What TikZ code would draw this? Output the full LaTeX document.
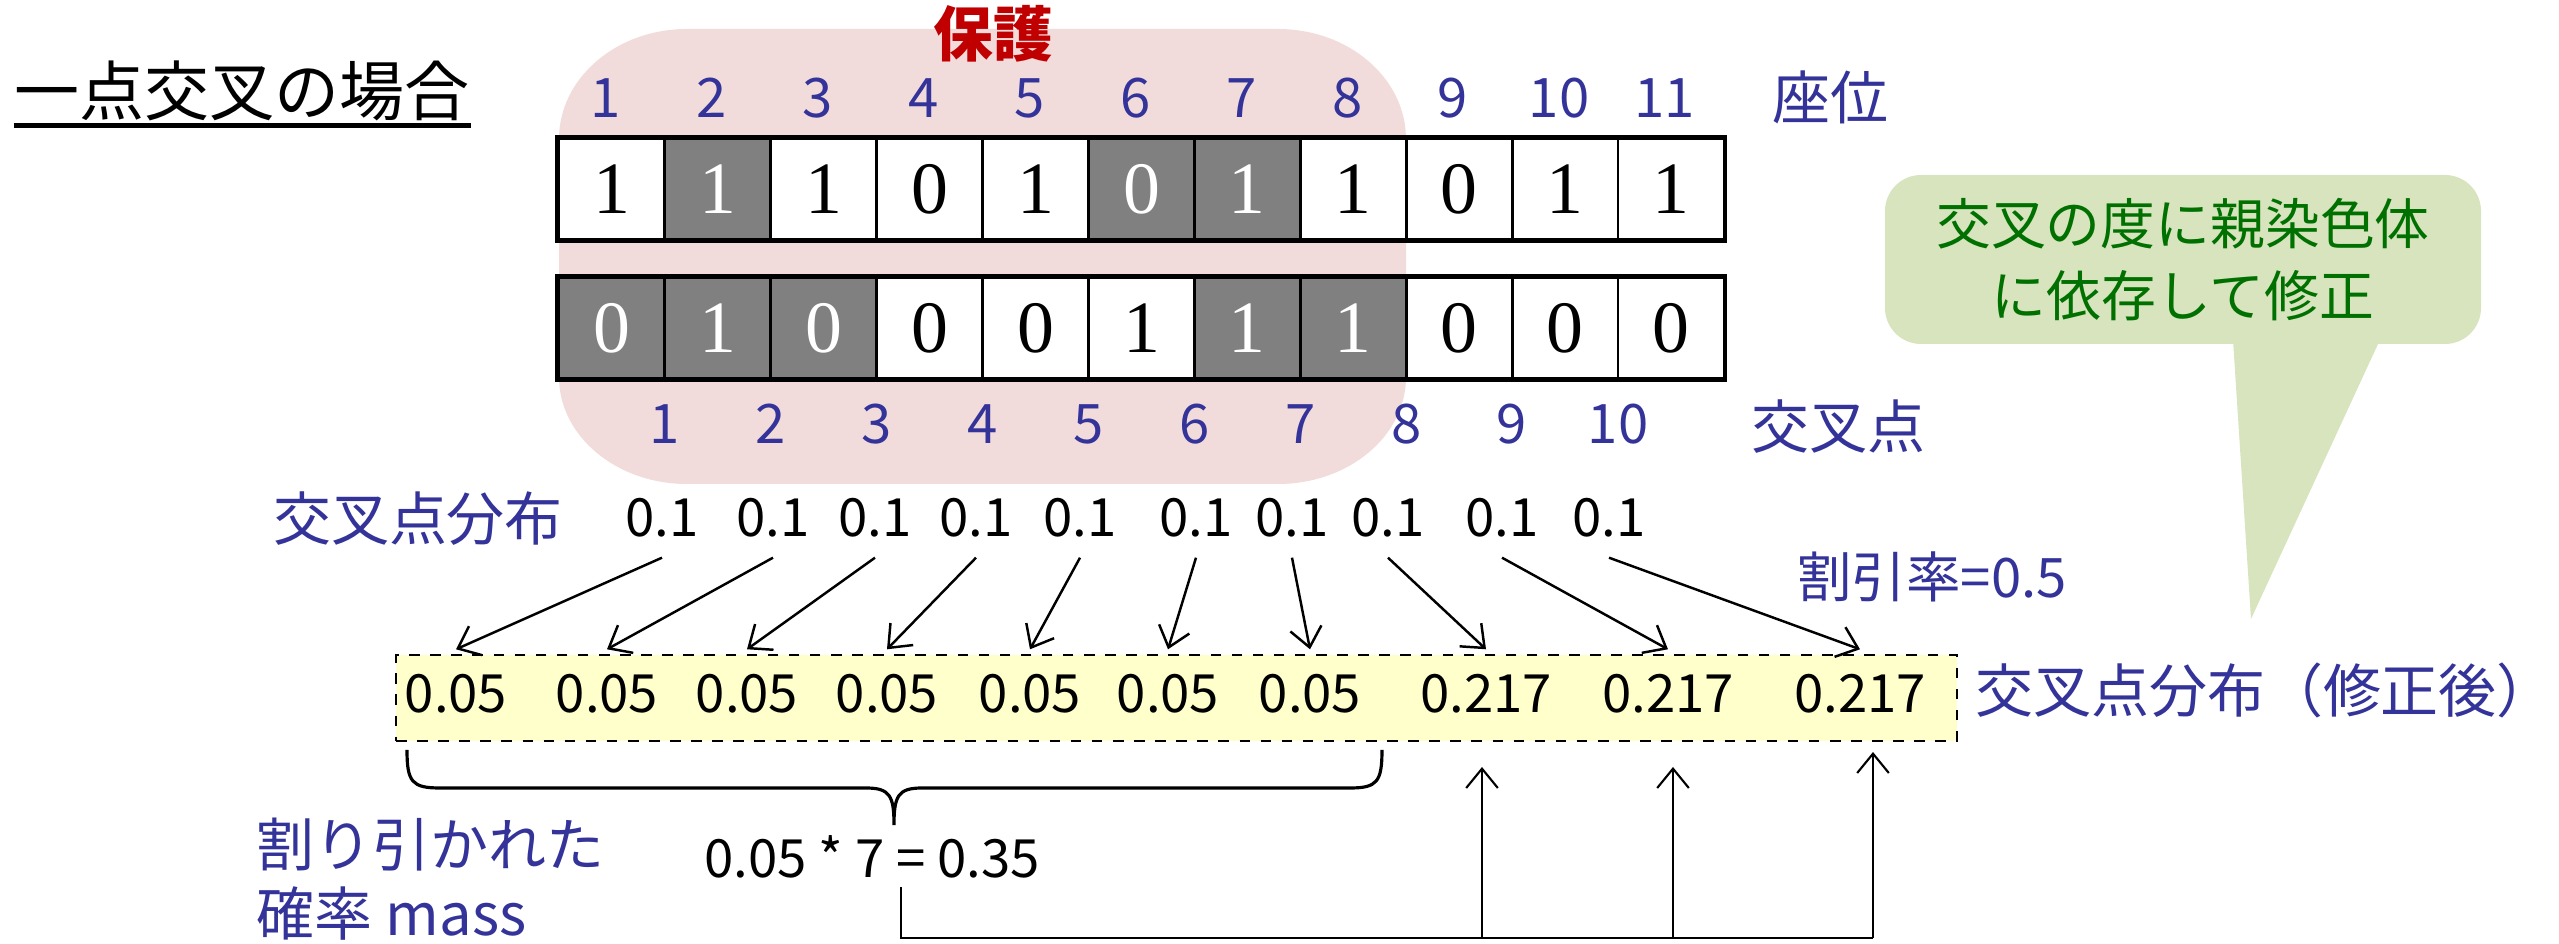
\documentclass[tikz,border=0pt]{standalone}
\usepackage{fontspec}
\setmainfont{Noto Sans CJK JP}
\newfontfamily\bitfont{Liberation Serif}
\usetikzlibrary{arrows.meta}
\definecolor{numblue}{RGB}{51,51,153}
\definecolor{guardpink}{RGB}{242,220,219}
\definecolor{guardred}{RGB}{192,0,0}
\definecolor{bitgray}{RGB}{128,128,128}
\definecolor{distyellow}{RGB}{255,255,204}
\definecolor{notefill}{RGB}{215,228,189}
\definecolor{notetext}{RGB}{0,112,0}

\begin{document}
\begin{tikzpicture}[x=1cm,y=1cm,
  bit/.style={draw,fill=white,line width=0.8pt,minimum width=1.059cm,minimum height=1cm,inner sep=0,font=\bitfont\fontsize{21}{21}\selectfont},
  hl/.style={fill=bitgray,text=white},
  posnum/.style={text=numblue,inner sep=0,font=\fontsize{15.5}{15.5}\selectfont},
  lbl/.style={text=numblue,inner sep=0,font=\fontsize{16.5}{16.5}\selectfont},
  val/.style={inner sep=0,font=\fontsize{15}{15}\selectfont},
  arr/.style={-{Straight Barb[length=5.5pt,width=9pt]},line width=0.7pt}]
\useasboundingbox (0,0) rectangle (25.59,9.44);
\fill[guardpink] (6.87,9.15) -- (12.78,9.15) arc[start angle=90,end angle=0,x radius=1.28,y radius=1.1] -- (14.06,5.67) arc[start angle=0,end angle=-90,x radius=1.28,y radius=1.07] -- (6.87,4.6) arc[start angle=270,end angle=180,x radius=1.28,y radius=1.07] -- (5.59,8.05) arc[start angle=180,end angle=90,x radius=1.28,y radius=1.1] -- cycle;
\node[font=\bfseries\fontsize{17}{17}\selectfont,text=guardred,inner sep=0] (guard) at (9.93,9.10) {保護};
\node[anchor=west,inner sep=0,font=\fontsize{18.5}{18.5}\selectfont] (title) at (0.14,8.53) {一点交叉の場合};
\draw[line width=1.2pt] ([yshift=-0.1cm]title.base west) -- ([yshift=-0.1cm]title.base east);
\foreach \b/\s [count=\i] in {1/,1/hl,1/,0/,1/,0/hl,1/hl,1/,0/,1/,1/}
  \node[bit,\s] (t\i) at ({5.0605+1.059*\i},7.55) {\b};
\foreach \b/\s [count=\i] in {0/hl,1/hl,0/hl,0/,0/,1/,1/hl,1/hl,0/,0/,0/}
  \node[bit,\s] (u\i) at ({5.0605+1.059*\i},6.16) {\b};
\draw[line width=1.2pt] (t1.north west) rectangle (t11.south east);
\draw[line width=1.2pt] (u1.north west) rectangle (u11.south east);
\foreach \i in {1,...,11}
  \node[posnum] (p\i) at ({5.0+1.059*\i},8.46) {\i};
\foreach \i in {1,...,10}
  \node[posnum] (c\i) at ({5.59+1.059*\i},5.20) {\i};
\node[lbl] (seat) at (18.30,8.47) {座位};
\node[lbl] (cross) at (18.38,5.17) {交叉点};
\node[lbl] (dist) at (4.18,4.25) {交叉点分布};
\node[lbl] (distfix) at (22.65,2.54) {交叉点分布（修正後）};
\node[text=numblue,inner sep=0,font=\fontsize{15.5}{15.5}\selectfont] (rate) at (19.32,3.67) {割引率=0.5};
\node[lbl,align=left,anchor=west,font=\fontsize{16.5}{19.6}\selectfont] (lost) at (2.56,0.645) {割り引かれた\\確率 mass};
\node[draw,dashed,fill=distyellow,line width=0.6pt,minimum width=15.61cm,minimum height=0.86cm,inner sep=0] (newbox) at (11.765,2.46) {};
\foreach \x [count=\i] in {6.62,7.73,8.75,9.76,10.80,11.96,12.92,13.88,15.02,16.09}
  \node[val,minimum height=0.78cm] (a\i) at (\x,4.26) {0.1};
\foreach \x/\v [count=\i] in {4.56/0.05,6.07/0.05,7.47/0.05,8.87/0.05,10.30/0.05,11.68/0.05,13.10/0.05,14.86/0.217,16.68/0.217,18.60/0.217}
  \node[val,minimum height=0.88cm] (b\i) at (\x,2.50) {\v};
\foreach \i in {1,...,10}
  \draw[arr] (a\i.south) -- (b\i.north);
\draw[line width=0.9pt] (4.07,1.94) .. controls (4.07,1.62) and (4.12,1.56) .. (4.40,1.56) -- (8.66,1.56) .. controls (8.90,1.56) and (8.94,1.48) .. (8.94,1.19) .. controls (8.94,1.48) and (8.98,1.56) .. (9.22,1.56) -- (13.50,1.56) .. controls (13.77,1.56) and (13.82,1.62) .. (13.82,1.94);
\node[val] (mass) at (8.72,0.87) {0.05 * 7 = 0.35};
\coordinate (m0) at (9.01,0.57);
\coordinate (bus) at (9.01,0.06);
\coordinate (k1) at (14.82,1.77);
\coordinate (k2) at (16.73,1.77);
\coordinate (k3) at (18.73,1.92);
\draw[line width=0.6pt] (m0) -- (bus) -- (bus -| k3);
\foreach \k in {1,2,3}
  \draw[arr,line width=0.6pt] (bus -| k\k) -- (k\k);
\node[fill=notefill,rounded corners=0.36cm,minimum width=5.96cm,minimum height=1.69cm,align=center,text=notetext,font=\fontsize{15.6}{20.7}\selectfont] (note) at (21.83,6.845) {交叉の度に親染色体\\に依存して修正};
\coordinate (tip) at (22.51,3.25);
\fill[notefill] ([xshift=0.50cm,yshift=0.05cm]note.south) -- (tip) -- ([xshift=1.97cm,yshift=0.05cm]note.south) -- cycle;
\end{tikzpicture}
\end{document}
